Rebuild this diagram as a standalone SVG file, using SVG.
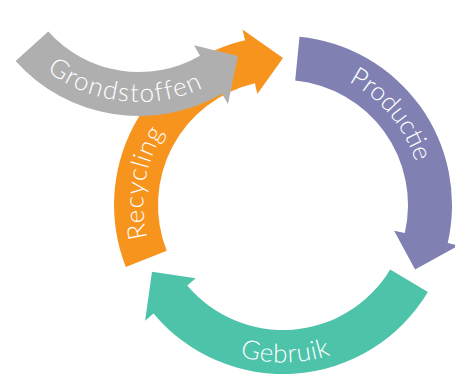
<svg xmlns="http://www.w3.org/2000/svg" width="455" height="388" viewBox="0 0 455 388">
<style>
.lbl{font-family:Lato,"Open Sans","Liberation Sans",sans-serif;font-size:26px;font-weight:300;letter-spacing:0.6px;fill:#ffffff;}
</style>
<defs>
<path id="tp-gray" d="M 10.1 30.5 A 152 152 0 0 0 248.3 55.6"/>
<path id="tp-green" d="M 164.5 308 A 156 156 0 0 0 405 303.8"/>
<path id="tp-orange" d="M 178.1 296.2 A 138 138 0 0 1 211.4 85.8"/>
<path id="tp-purple" d="M 283 66 A 138 138 0 0 1 419.9 229.1"/>
</defs>
<rect width="455" height="388" fill="#ffffff"/>
<g id="productie">
<path fill="#8080B3" d="M 299.5 36.8 A 169 169 0 0 1 447.7 243.0 L 458.4 245.5 L 415.1 269.4 L 394.1 230.7 L 404.8 233.1 A 125 125 0 0 0 295.2 80.6 Z"/>
<text class="lbl" style="letter-spacing:0px"><textPath href="#tp-purple" startOffset="50%" text-anchor="middle">Productie</textPath></text>
</g>
<g id="gebruik">
<path fill="#4DC3AA" d="M 427.9 292.0 A 169 169 0 0 1 153.5 313.6 L 145.1 320.7 L 152.0 271.7 L 195.7 278.3 L 187.3 285.4 A 125 125 0 0 0 390.2 269.4 Z"/>
<text class="lbl"><textPath href="#tp-green" startOffset="50%" text-anchor="middle">Gebruik</textPath></text>
</g>
<g id="recycling">
<path fill="#F7941E" d="M 125.8 266.9 A 169 169 0 0 1 245.0 40.3 L 242.5 29.6 L 283 58 L 257.3 93.9 L 254.9 83.2 A 125 125 0 0 0 166.7 250.8 Z"/>
<text class="lbl"><textPath href="#tp-orange" startOffset="50%" text-anchor="middle">Recycling</textPath></text>
</g>
<g id="grondstoffen">
<path fill="#AFAFAF" d="M 15.6 61.1 A 166 166 0 0 0 222 93.8 L 228 104.1 L 237.9 56.1 L 194 45.3 L 200 55.7 A 122 122 0 0 1 48.3 31.6 Z"/>
<text class="lbl" style="letter-spacing:1.4px"><textPath href="#tp-gray" startOffset="50%" text-anchor="middle">Grondstoffen</textPath></text>
</g>
<g id="connectors"/>
</svg>
